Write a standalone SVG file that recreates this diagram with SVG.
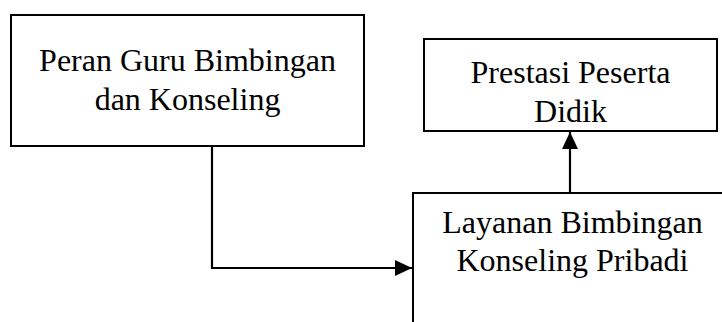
<svg xmlns="http://www.w3.org/2000/svg" width="722" height="322" viewBox="0 0 722 322">
<defs>
<style>
.box{fill:#fff;stroke:#000;stroke-width:2}
.t{font-family:"Liberation Serif","Times New Roman",serif;font-size:32px;fill:#000;text-anchor:middle}
.c{fill:none;stroke:#000;stroke-width:2.2}
</style>
<marker id="ah" markerWidth="17" markerHeight="16" refX="17" refY="8" orient="auto" markerUnits="userSpaceOnUse">
<path d="M0,0 L17,8 L0,16 Z" fill="#000"/>
</marker>
</defs>
<rect width="722" height="322" fill="#fff"/>
<g id="node-peran">
<rect class="box" x="11" y="15" width="353" height="131"/>
<text class="t" x="187.5" y="71">Peran Guru Bimbingan</text>
<text class="t" x="187.5" y="110">dan Konseling</text>
</g>
<g id="node-prestasi">
<rect class="box" x="424" y="39" width="293" height="92"/>
<text class="t" x="570.5" y="83">Prestasi Peserta</text>
<text class="t" x="570.5" y="122">Didik</text>
</g>
<g id="node-layanan">
<rect class="box" x="413" y="193" width="320" height="140"/>
<text class="t" x="572.5" y="233">Layanan Bimbingan</text>
<text class="t" x="572.5" y="271">Konseling Pribadi</text>
</g>
<g id="connectors">
<polyline class="c" points="212,147 212,268 412,268" marker-end="url(#ah)"/>
<line class="c" x1="570" y1="192" x2="570" y2="132" marker-end="url(#ah)"/>
</g>
</svg>
